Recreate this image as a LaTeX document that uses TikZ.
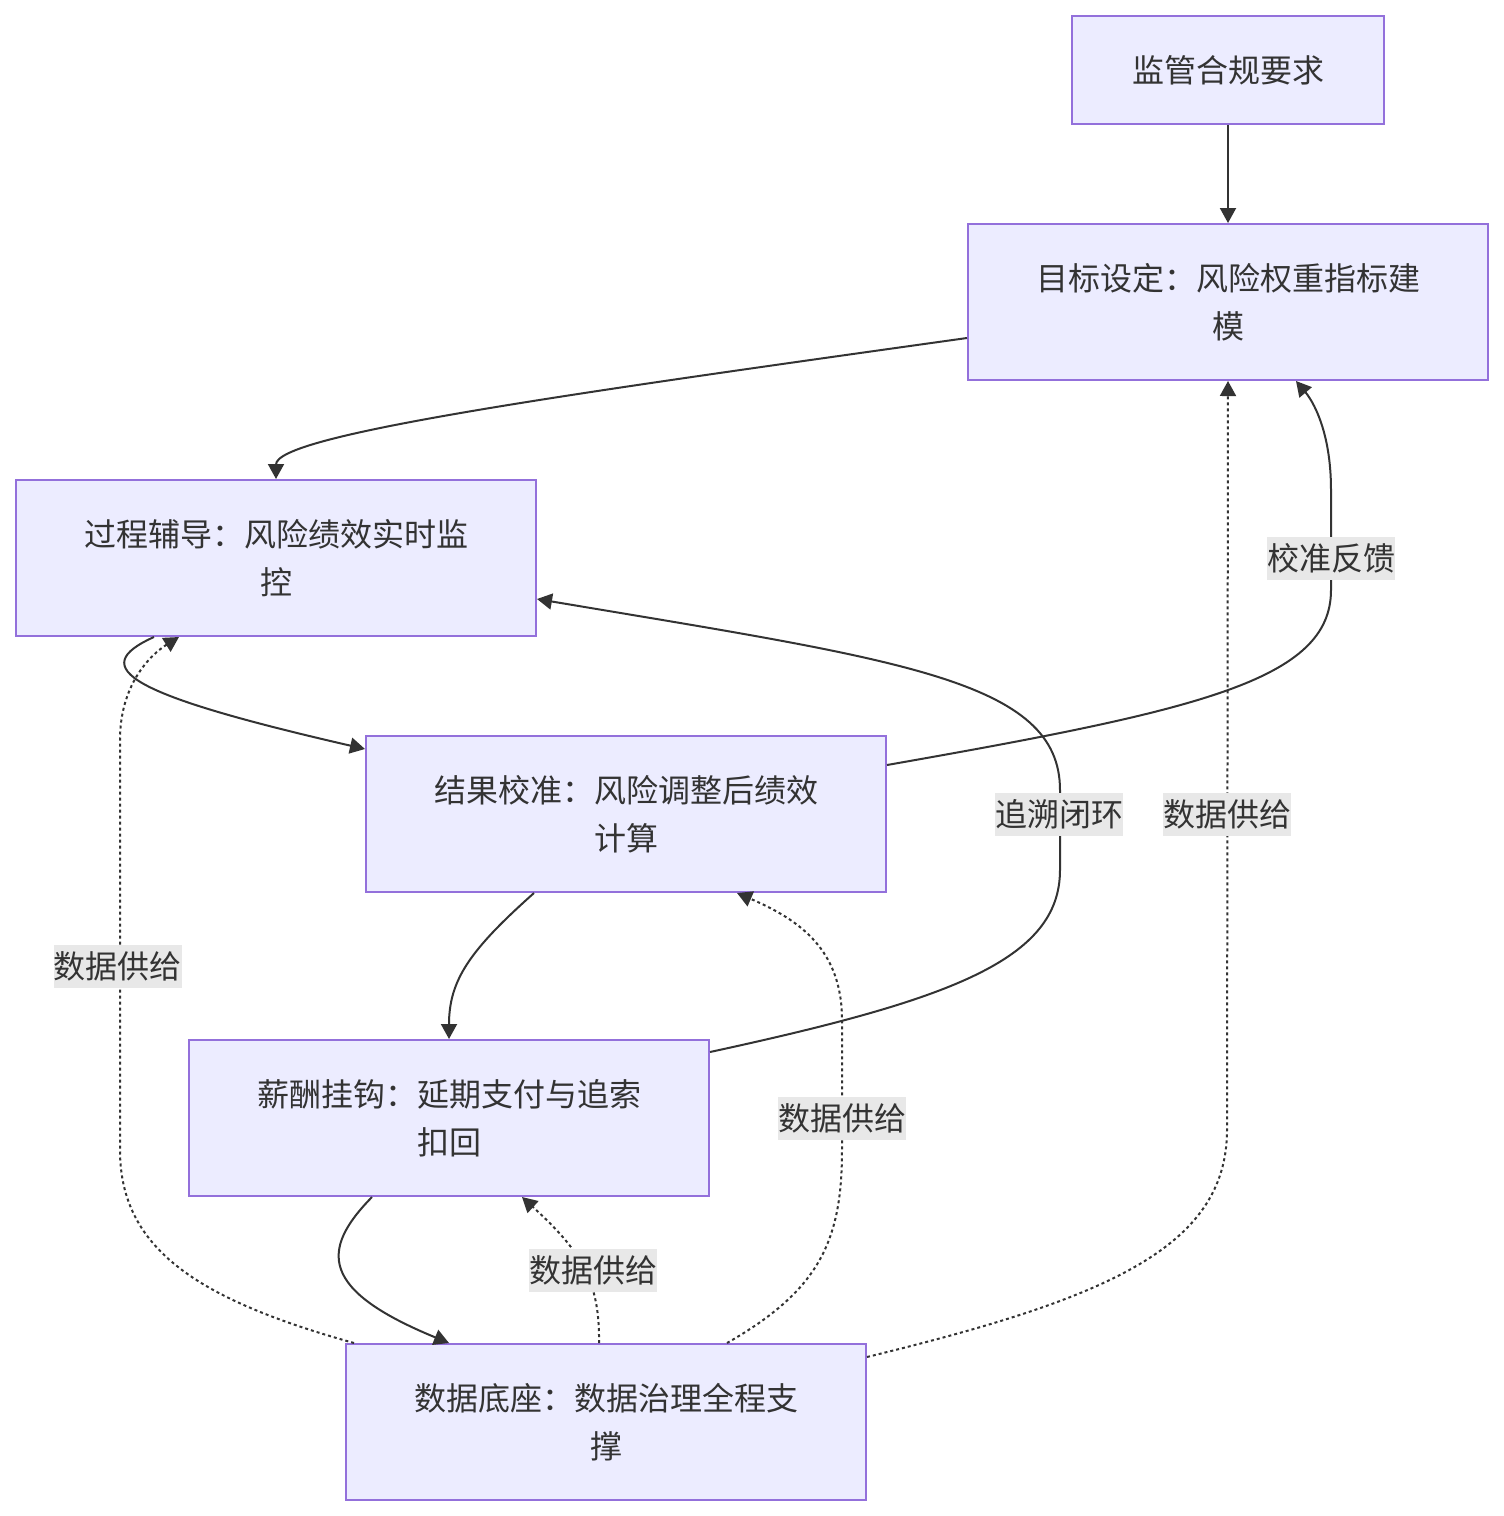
\documentclass[tikz,border=0pt]{standalone}
\usepackage{fontspec}
\setmainfont{Noto Sans CJK SC}
\usetikzlibrary{arrows.meta,calc}
\definecolor{boxfill}{HTML}{ECECFF}
\definecolor{boxline}{HTML}{9370DB}
\definecolor{ink}{HTML}{333333}
\definecolor{lblbg}{HTML}{E8E8E8}
\begin{document}
\begin{tikzpicture}[x=0.5pt,y=-0.5pt,
  box/.style={draw=boxline,fill=boxfill,line width=1pt,minimum width=260pt,minimum height=78pt,align=center,text=ink,font=\fontsize{16}{24}\selectfont,inner sep=0pt},
  edge/.style={draw=ink,line width=1pt,-{Triangle[length=7.5pt,width=8pt]}},
  dedge/.style={edge,dash pattern=on 1.5pt off 1.5pt},
  lbl/.style={fill=lblbg,text=ink,font=\fontsize{16}{20}\selectfont,inner xsep=0pt,inner ysep=0pt,minimum height=21.5pt}]
\useasboundingbox (0,0) rectangle (1504,1516);
\node[box,minimum width=156pt,minimum height=54pt] (n0) at (1228,70) {监管合规要求};
\node[box] (n1) at (1228,302) {目标设定：风险权重指标建\\模};
\node[box] (n2) at (276,558) {过程辅导：风险绩效实时监\\控};
\node[box] (n3) at (626,814) {结果校准：风险调整后绩效\\计算};
\node[box] (n4) at (449,1118) {薪酬挂钩：延期支付与追索\\扣回};
\node[box] (n5) at (606,1422) {数据底座：数据治理全程支\\撑};
% solid edges
\draw[edge] (n0.south) -- (n1.north);
\draw[edge] ($(n1.west)+(0,36)$) .. controls (560,395) and (276,435) .. (n2.north);
\draw[edge] ($(n2.south west)+(139,0)$) .. controls (85,668) and (130,695) .. ($(n3.north west)+(0,14)$);
\draw[edge] ($(n3.south west)+(169,0)$) .. controls (470,950) and (449,980) .. (n4.north);
\draw[edge] ($(n4.south west)+(184,0)$) .. controls (320,1250) and (320,1290) .. ($(n5.north west)+(104,0)$);
\draw[edge] ($(n3.north east)+(0,30)$) .. controls (1200,710) and (1331,680) .. (1331,590) -- (1331,490) .. controls (1331,430) and (1312,400) .. ($(n1.south east)+(-193,0)$);
\draw[edge] ($(n4.north east)+(0,13)$) .. controls (950,1000) and (1060,960) .. (1060,870) -- (1060,790) .. controls (1060,680) and (900,660) .. ($(n2.north east)+(0,120)$);
% dashed edges
\draw[dedge] ($(n5.north west)+(9,0)$) .. controls (200,1300) and (120,1250) .. (120,1150) -- (120,740) .. controls (120,685) and (150,655) .. ($(n2.south west)+(164,0)$);
\draw[dedge] ($(n5.north west)+(254,0)$) .. controls (600,1280) and (580,1250) .. ($(n4.south west)+(334,0)$);
\draw[dedge] ($(n5.north west)+(382,0)$) .. controls (820,1290) and (842,1240) .. (842,1150) -- (842,1020) .. controls (842,950) and (800,920) .. ($(n3.south west)+(372,0)$);
\draw[dedge] ($(n5.north east)+(0,14)$) .. controls (1100,1300) and (1227,1250) .. (1227,1130) -- (n1.south);
% labels
\node[lbl] (l1) at (1331,558) {校准反馈};
\node[lbl] (l2) at (1059,814) {追溯闭环};
\node[lbl] (l3) at (1227,814) {数据供给};
\node[lbl] (l4) at (118,966) {数据供给};
\node[lbl] (l5) at (842,1118) {数据供给};
\node[lbl] (l6) at (593,1270) {数据供给};
\end{tikzpicture}
\end{document}
